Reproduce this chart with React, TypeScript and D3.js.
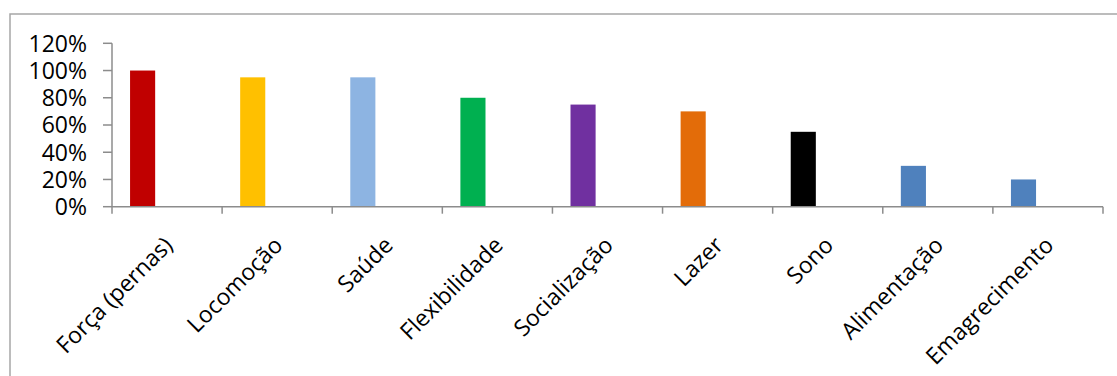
import { useEffect, useRef } from "react";
import * as d3 from "d3";

const categories = [
  "Força (pernas)",
  "Locomoção",
  "Saúde",
  "Flexibilidade",
  "Socialização",
  "Lazer",
  "Sono",
  "Alimentação",
  "Emagrecimento",
];
const values = [1.0, 0.95, 0.95, 0.8, 0.75, 0.7, 0.55, 0.3, 0.2];
const colors = [
  "#C00000",
  "#FFC000",
  "#8DB4E2",
  "#00B050",
  "#7030A0",
  "#E36C09",
  "#000000",
  "#4F81BD",
  "#4F81BD",
];
const yTicks = [0, 0.2, 0.4, 0.6, 0.8, 1.0, 1.2];

export default function App() {
  const ref = useRef<SVGSVGElement>(null);

  useEffect(() => {
    const svg = d3.select(ref.current);
    svg.selectAll("*").remove();

    const width = 1117;
    const height = 376;
    const font = "'Open Sans', Calibri, sans-serif";

    // outer chart frame (runs off the right and bottom edges)
    svg
      .append("rect")
      .attr("x", 10)
      .attr("y", 14)
      .attr("width", width + 20)
      .attr("height", height + 20)
      .attr("fill", "white")
      .attr("stroke", "#A6A6A6")
      .attr("stroke-width", 1.5);

    const x = d3.scaleBand<string>().domain(categories).range([112, 1103]);
    const y = d3.scaleLinear().domain([0, 1.2]).range([206.7, 43.3]);

    const axisColor = "#8C8C8C";

    // bars (offset left within each category, as in the original)
    svg
      .append("g")
      .selectAll("rect")
      .data(categories)
      .join("rect")
      .attr("x", (d) => x(d)! + x.bandwidth() * 0.164)
      .attr("width", x.bandwidth() * 0.228)
      .attr("y", (d, i) => y(values[i]))
      .attr("height", (d, i) => y(0) - y(values[i]))
      .attr("fill", (d, i) => colors[i]);

    // y axis
    const gy = svg.append("g");
    gy.append("line")
      .attr("x1", 112)
      .attr("x2", 112)
      .attr("y1", y(1.2))
      .attr("y2", y(0))
      .attr("stroke", axisColor)
      .attr("stroke-width", 1.5);
    gy.selectAll("line.tick")
      .data(yTicks)
      .join("line")
      .attr("class", "tick")
      .attr("x1", 103)
      .attr("x2", 112)
      .attr("y1", (d) => y(d))
      .attr("y2", (d) => y(d))
      .attr("stroke", axisColor)
      .attr("stroke-width", 1.5);
    gy.selectAll("text")
      .data(yTicks)
      .join("text")
      .attr("x", 87)
      .attr("y", (d) => y(d))
      .attr("dy", "0.36em")
      .attr("text-anchor", "end")
      .attr("font-family", font)
      .attr("font-size", 23)
      .attr("fill", "#000")
      .text((d) => d3.format(".0%")(d));

    // x axis
    const gx = svg.append("g");
    gx.append("line")
      .attr("x1", 112)
      .attr("x2", 1103)
      .attr("y1", y(0))
      .attr("y2", y(0))
      .attr("stroke", axisColor)
      .attr("stroke-width", 1.5);
    const bounds = categories.map((c) => x(c)!).concat([x.range()[1]]);
    gx.selectAll("line.tick")
      .data(bounds)
      .join("line")
      .attr("class", "tick")
      .attr("x1", (d) => d)
      .attr("x2", (d) => d)
      .attr("y1", y(0))
      .attr("y2", y(0) + 7)
      .attr("stroke", axisColor)
      .attr("stroke-width", 1.5);
    gx.selectAll("text")
      .data(categories)
      .join("text")
      .attr(
        "transform",
        (d) => `translate(${x(d)! + x.bandwidth() / 2 + 7},${y(0) + 40}) rotate(-45)`
      )
      .attr("text-anchor", "end")
      .attr("font-family", font)
      .attr("font-size", 23)
      .attr("fill", "#000")
      .text((d) => d);
  }, []);

  return (
    <svg
      ref={ref}
      width={1117}
      height={376}
      style={{ position: "absolute", left: 0, top: 0, background: "white" }}
    />
  );
}
